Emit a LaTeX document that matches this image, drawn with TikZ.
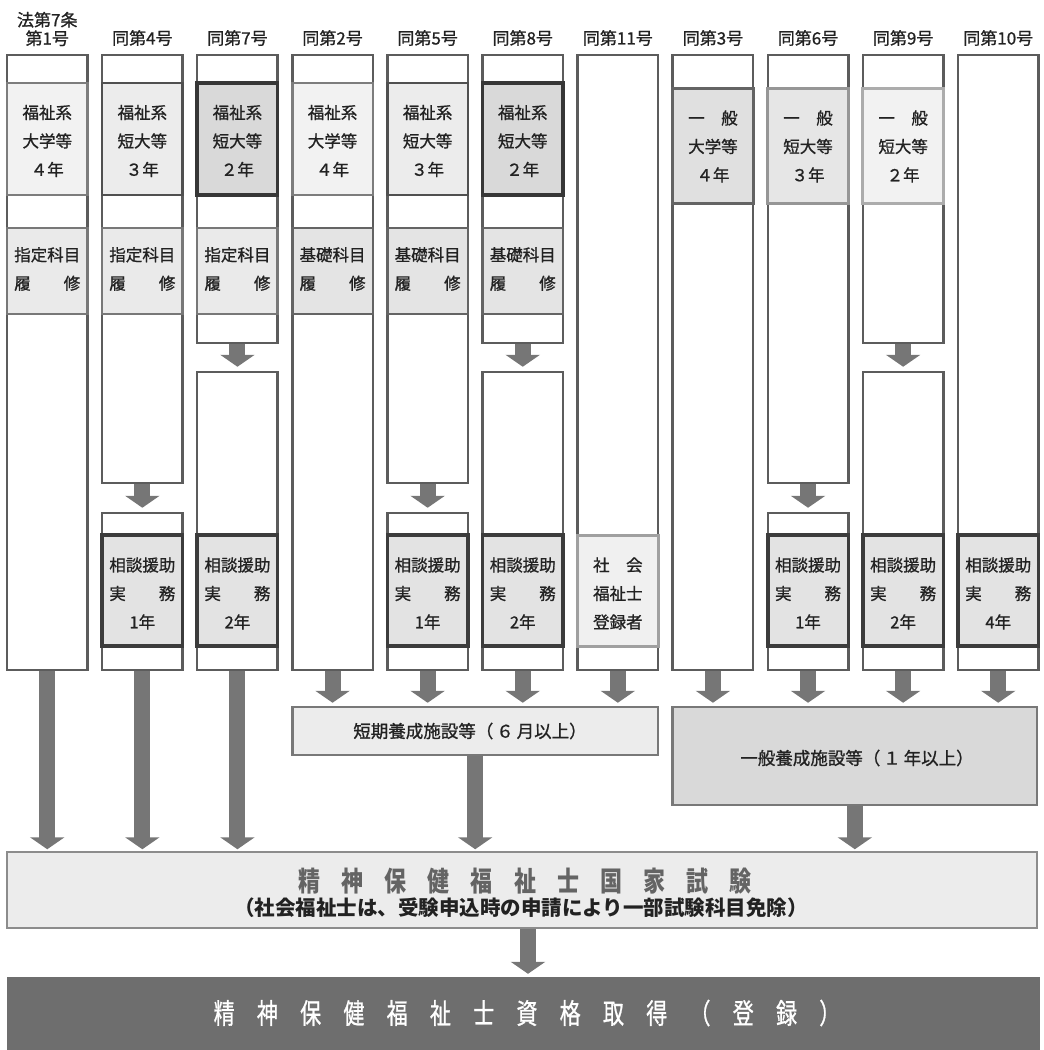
\documentclass[tikz,border=0pt]{standalone}
\usepackage{graphicx}
\usepackage{fontspec}
\setmainfont{Noto Sans CJK JP}
\newfontfamily\mfont{Noto Sans CJK JP}[FakeBold=1]
\usetikzlibrary{fit,arrows.meta}
\definecolor{colline}{RGB}{92,92,92}
\definecolor{arrowgray}{RGB}{118,118,118}
\definecolor{txt}{RGB}{34,34,34}
\definecolor{univD}{RGB}{125,125,125}\definecolor{univF}{RGB}{242,242,242}
\definecolor{tanthreeD}{RGB}{80,80,80}\definecolor{tanthreeF}{RGB}{236,236,236}
\definecolor{tantwoD}{RGB}{55,55,55}\definecolor{tantwoF}{RGB}{217,217,217}
\definecolor{shiteiD}{RGB}{120,120,120}\definecolor{shiteiF}{RGB}{234,234,234}
\definecolor{kisoD}{RGB}{100,100,100}\definecolor{kisoF}{RGB}{228,228,228}
\definecolor{genfourD}{RGB}{100,100,100}\definecolor{genfourF}{RGB}{224,224,224}
\definecolor{genthreeD}{RGB}{150,150,150}\definecolor{genthreeF}{RGB}{230,230,230}
\definecolor{gentwoD}{RGB}{172,172,172}\definecolor{gentwoF}{RGB}{242,242,242}
\definecolor{sodanD}{RGB}{60,60,60}\definecolor{sodanF}{RGB}{227,227,227}
\definecolor{shakaiD}{RGB}{160,160,160}\definecolor{shakaiF}{RGB}{240,240,240}
\definecolor{shortF}{RGB}{236,236,236}\definecolor{genF}{RGB}{217,217,217}
\definecolor{boxD}{RGB}{120,120,120}
\definecolor{examD}{RGB}{140,140,140}\definecolor{examF}{RGB}{236,236,236}
\definecolor{finalF}{RGB}{110,110,110}
\definecolor{titlegray}{RGB}{100,100,100}
\newcommand\tsp{\hspace{0.96em}}
\newcommand\fsp{\hspace{1.06em}}
\begin{document}
\begin{tikzpicture}[x=1pt,y=-1pt,
  colrect/.style={draw=colline, line width=2.5pt, fill=white, inner sep=0pt},
  ibox/.style={line width=2.5pt, inner sep=0pt},
  lbl/.style={inner sep=0pt, align=center, text=txt, font=\mfont\fontsize{16.5}{28.5}\selectfont},
  univ/.style={ibox, draw=univD, fill=univF},
  tanthree/.style={ibox, draw=tanthreeD, fill=tanthreeF},
  tantwo/.style={ibox, draw=tantwoD, fill=tantwoF, line width=3.5pt},
  shitei/.style={ibox, draw=shiteiD, fill=shiteiF},
  kiso/.style={ibox, draw=kisoD, fill=kisoF},
  genfour/.style={ibox, draw=genfourD, fill=genfourF, line width=3pt},
  genthree/.style={ibox, draw=genthreeD, fill=genthreeF, line width=3pt},
  gentwo/.style={ibox, draw=gentwoD, fill=gentwoF, line width=3pt},
  sodan/.style={ibox, draw=sodanD, fill=sodanF, line width=3.5pt},
  shakai/.style={ibox, draw=shakaiD, fill=shakaiF, line width=3pt},
  hdr/.style={text=txt, inner sep=0pt, align=center, font=\mfont\fontsize{17}{18}\selectfont},
  bigarrow/.style={draw=arrowgray, line width=16pt, -{Triangle[width=34pt,length=12pt]}},
  midbox/.style={line width=2.5pt, draw=boxD, inner sep=0pt},
  midtxt/.style={text=txt, inner sep=0pt, font=\mfont\fontsize{17.5}{20}\selectfont}
]
\useasboundingbox (0,0) rectangle (1044,1050);

% ---- columns ----
\foreach \i in {1,4,7,8,11} {
  \pgfmathsetmacro\L{7+95.1*(\i-1)}\pgfmathsetmacro\R{\L+80.5}
  \node[colrect, fit={(\L,55) (\R,670)}] (c\i) {};
}
\foreach \i in {2,5,9} {
  \pgfmathsetmacro\L{7+95.1*(\i-1)}\pgfmathsetmacro\R{\L+80.5}
  \node[colrect, fit={(\L,55) (\R,483)}] (c\i-u) {};
  \node[colrect, fit={(\L,513) (\R,670)}] (c\i-l) {};
}
\foreach \i in {3,6,10} {
  \pgfmathsetmacro\L{7+95.1*(\i-1)}\pgfmathsetmacro\R{\L+80.5}
  \node[colrect, fit={(\L,55) (\R,343)}] (c\i-u) {};
  \node[colrect, fit={(\L,372) (\R,670)}] (c\i-l) {};
}

% ---- headers ----
\node[hdr, font=\mfont\fontsize{17}{18.5}\selectfont] (h1) at (47.25,29) {法第7条\\第1号};
\foreach \i/\t in {2/同第4号,3/同第7号,4/同第2号,5/同第5号,6/同第8号,7/同第11号,8/同第3号,9/同第6号,10/同第9号,11/同第10号} {
  \pgfmathsetmacro\C{7+95.1*(\i-1)+40.25}
  \node[hdr] (h\i) at (\C,38) {\t};
}

% ---- top school boxes ----
\foreach \i/\s/\t in {1/univ/福祉系\\大学等\\４年, 2/tanthree/福祉系\\短大等\\３年, 3/tantwo/福祉系\\短大等\\２年,
                     4/univ/福祉系\\大学等\\４年, 5/tanthree/福祉系\\短大等\\３年, 6/tantwo/福祉系\\短大等\\２年} {
  \pgfmathsetmacro\L{7+95.1*(\i-1)}\pgfmathsetmacro\R{\L+80.5}
  \node[\s, fit={(\L,83) (\R,195)}] (s\i) {};
  \node[lbl] (s\i-t) at ([yshift=-2pt]s\i.center) {\t};
}
\foreach \i/\s/\t in {8/genfour/一\hspace{1em}般\\大学等\\４年, 9/genthree/一\hspace{1em}般\\短大等\\３年, 10/gentwo/一\hspace{1em}般\\短大等\\２年} {
  \pgfmathsetmacro\L{7+95.1*(\i-1)}\pgfmathsetmacro\R{\L+80.5}
  \node[\s, fit={(\L,88) (\R,203)}] (s\i) {};
  \node[lbl] (s\i-t) at ([yshift=-1pt]s\i.center) {\t};
}

% ---- subject boxes ----
\foreach \i/\s/\t in {1/shitei/指定科目, 2/shitei/指定科目, 3/shitei/指定科目,
                     4/kiso/基礎科目, 5/kiso/基礎科目, 6/kiso/基礎科目} {
  \pgfmathsetmacro\L{7+95.1*(\i-1)}\pgfmathsetmacro\R{\L+80.5}
  \node[\s, fit={(\L,228) (\R,314)}] (k\i) {};
  \node[lbl] (k\i-t) at ([yshift=2pt]k\i.center) {\t\\履\hspace{2em}修};
}

% ---- practice boxes ----
\foreach \i/\y in {2/1年, 3/2年, 5/1年, 6/2年, 9/1年, 10/2年, 11/4年} {
  \pgfmathsetmacro\L{7+95.1*(\i-1)}\pgfmathsetmacro\R{\L+80.5}
  \node[sodan, fit={(\L,535) (\R,646)}] (p\i) {};
  \node[lbl] (p\i-t) at ([yshift=-3pt]p\i.center) {相談援助\\実\hspace{2em}務\\\y};
}
\node[shakai, fit={(577.6,535) (658.1,646)}] (p7) {};
\node[lbl] (p7-t) at ([yshift=-3pt]p7.center) {社\hspace{1em}会\\福祉士\\登録者};

% ---- training boxes, exam, final ----
\node[midbox, fill=shortF, fit={(292.3,707) (658.1,755)}] (short) {};
\node[midtxt] (shorttxt) at (470,731) {短期養成施設等（\,６\,月以上）};
\node[midbox, fill=genF, fit={(672.7,707) (1037,805)}] (gen) {};
\node[midtxt] (gentxt) at (857,758) {一般養成施設等（\,１\,年以上）};

\node[line width=2.5pt, draw=examD, fill=examF, inner sep=0pt, fit={(7,852) (1037,928)}] (exam) {};
\node[text=titlegray, inner sep=0pt, font=\fontsize{27.5}{29}\selectfont\bfseries] (examtitle) at (525,881)
  {\scalebox{0.8}[1]{精\tsp 神\tsp 保\tsp 健\tsp 福\tsp 祉\tsp 士\tsp 国\tsp 家\tsp 試\tsp 験}};
\node[text=txt, inner sep=0pt, font=\fontsize{20.5}{22}\selectfont\bfseries] (examsub) at (521,908)
  {（社会福祉士は、受験申込時の申請により一部試験科目免除）};

\node[fill=finalF, inner sep=0pt, fit={(7,977) (1040,1050)}] (final) {};
\node[text=white, inner sep=0pt, font=\mfont\fontsize{28}{30}\selectfont] (finaltxt) at (527,1013)
  {\scalebox{0.75}[1]{精\fsp 神\fsp 保\fsp 健\fsp 福\fsp 祉\fsp 士\fsp 資\fsp 格\fsp 取\fsp 得\fsp （\fsp 登\fsp 録\fsp ）}};

% ---- arrows ----
\foreach \i in {2,3,5,6,9,10} {
  \draw[bigarrow, shorten >=4pt] (c\i-u.south) -- (c\i-l.north);
}
\draw[bigarrow, shorten >=1.5pt] (c1.south) -- (c1.south |- exam.north);
\draw[bigarrow, shorten >=1.5pt] (c2-l.south) -- (c2-l.south |- exam.north);
\draw[bigarrow, shorten >=1.5pt] (c3-l.south) -- (c3-l.south |- exam.north);
\draw[bigarrow, shorten >=3pt] (c4.south) -- (c4.south |- short.north);
\draw[bigarrow, shorten >=3pt] (c5-l.south) -- (c5-l.south |- short.north);
\draw[bigarrow, shorten >=3pt] (c6-l.south) -- (c6-l.south |- short.north);
\draw[bigarrow, shorten >=3pt] (c7.south) -- (c7.south |- short.north);
\draw[bigarrow, shorten >=3pt] (c8.south) -- (c8.south |- gen.north);
\draw[bigarrow, shorten >=3pt] (c9-l.south) -- (c9-l.south |- gen.north);
\draw[bigarrow, shorten >=3pt] (c10-l.south) -- (c10-l.south |- gen.north);
\draw[bigarrow, shorten >=3pt] (c11.south) -- (c11.south |- gen.north);
\draw[bigarrow, shorten >=1.5pt] (short.south) -- (short.south |- exam.north);
\draw[bigarrow, shorten >=1.5pt] (gen.south) -- (gen.south |- exam.north);
\coordinate (ea) at ([xshift=3pt]exam.south -| examtitle.center);
\draw[bigarrow, shorten >=3pt] (ea) -- (ea |- final.north);
\end{tikzpicture}
\end{document}
